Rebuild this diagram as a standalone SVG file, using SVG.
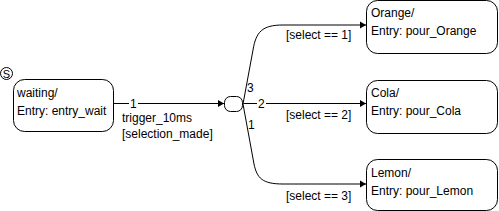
<svg xmlns="http://www.w3.org/2000/svg" width="499" height="211" viewBox="0 0 499 211">
<defs>
<style>
text{font-family:"Liberation Sans",Arial,sans-serif;font-size:12px;fill:#000}
.box{fill:#fff;stroke:#000;stroke-width:1}
.ln{fill:none;stroke:#000;stroke-width:1}
</style>
<marker id="ah" markerWidth="6" markerHeight="8" refX="6" refY="4" orient="auto" markerUnits="userSpaceOnUse">
<path d="M0,0.5 L6,4 L0,7.5 Z" fill="#000"/>
</marker>
</defs>
<rect width="499" height="211" fill="#fff"/>
<g id="connectors">
<path class="ln" d="M113.5,103.5 H129"/>
<text x="130" y="107.5">1</text>
<path class="ln" d="M138,103.5 H224" marker-end="url(#ah)"/>
<text x="122" y="122">trigger_10ms</text>
<text x="122" y="138">[selection_made]</text>
<path class="ln" d="M243,104 L253,50 C256,32 262,25 283,25 L366,25" marker-end="url(#ah)"/>
<path class="ln" d="M243.5,103.5 H257"/>
<text x="258" y="107.5">2</text>
<path class="ln" d="M266,103.5 H366" marker-end="url(#ah)"/>
<path class="ln" d="M243,104 L254,164 C257,178 262,184 283,184 L366,184" marker-end="url(#ah)"/>
<text x="247" y="92">3</text>
<text x="248" y="129">1</text>
<text x="286" y="39">[select == 1]</text>
<text x="286" y="119">[select == 2]</text>
<text x="286" y="200">[select == 3]</text>
</g>
<g id="start">
<circle cx="6.5" cy="73.5" r="6" class="ln"/>
<text x="6.5" y="77.5" text-anchor="middle" style="font-size:11px">S</text>
</g>
<g id="waiting">
<rect class="box" x="13.5" y="79.5" width="100" height="52" rx="11"/>
<text x="17" y="97">waiting/</text>
<text x="17" y="115">Entry: entry_wait</text>
</g>
<g id="junction">
<rect class="box" x="224.5" y="96.5" width="18" height="15" rx="6"/>
</g>
<g id="orange">
<rect class="box" x="366.5" y="0.5" width="131" height="53" rx="11"/>
<text x="371" y="17">Orange/</text>
<text x="371" y="35">Entry: pour_Orange</text>
</g>
<g id="cola">
<rect class="box" x="366.5" y="80.5" width="131" height="53" rx="11"/>
<text x="371" y="97">Cola/</text>
<text x="371" y="115">Entry: pour_Cola</text>
</g>
<g id="lemon">
<rect class="box" x="366.5" y="159.5" width="131" height="51" rx="11"/>
<text x="371" y="177">Lemon/</text>
<text x="371" y="195">Entry: pour_Lemon</text>
</g>
</svg>
